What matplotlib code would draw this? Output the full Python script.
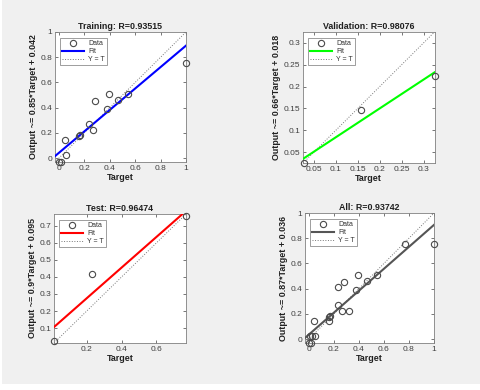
import matplotlib
matplotlib.use("Agg")
import matplotlib.pyplot as plt
import numpy as np
from matplotlib.ticker import FuncFormatter
from matplotlib.patches import Rectangle

plt.rcParams['font.family'] = ['Liberation Sans', 'DejaVu Sans']

# ---- data ----
train_t = [0.003, 0.016, 0.045, 0.053, 0.160, 0.170, 0.237, 0.268, 0.282, 0.379, 0.392, 0.463, 0.545, 0.997]
train_y = [-0.03, -0.03, 0.148, 0.029, 0.175, 0.185, 0.275, 0.226, 0.457, 0.387, 0.509, 0.465, 0.512, 0.753]
val_t = [0.027, 0.158, 0.325]
val_y = [0.025, 0.146, 0.224]
test_t = [0.012, 0.233, 0.770]
test_y = [0.025, 0.416, 0.757]
all_t = train_t + val_t + test_t
all_y = train_y + val_y + test_y

titles = ["Training: R=0.93515", "Validation: R=0.98076", "Test: R=0.96474", "All: R=0.93742"]
ylabels = ["Output ~= 0.85*Target + 0.042", "Output ~= 0.66*Target + 0.018",
           "Output ~= 0.9*Target + 0.095", "Output ~= 0.87*Target + 0.036"]
slopes = [0.85, 0.66, 0.9, 0.87]
intercepts = [0.042, 0.018, 0.095, 0.036]
fit_colors = ["#0000ff", "#00ff00", "#ff0000", "#555555"]
lims = [(-0.03, 1.0), (0.025, 0.325), (0.012, 0.77), (-0.03, 1.0)]
xticks = [[0, 0.2, 0.4, 0.6, 0.8, 1], [0.05, 0.1, 0.15, 0.2, 0.25, 0.3], [0.2, 0.4, 0.6], [0, 0.2, 0.4, 0.6, 0.8, 1]]
yticks = [[0, 0.2, 0.4, 0.6, 0.8, 1], [0.05, 0.1, 0.15, 0.2, 0.25, 0.3], [0.1, 0.2, 0.3, 0.4, 0.5, 0.6, 0.7], [0, 0.2, 0.4, 0.6, 0.8, 1]]
datasets = [(train_t, train_y), (val_t, val_y), (test_t, test_y), (all_t, all_y)]

W, H = 480, 390
fig = plt.figure(figsize=(W / 100, H / 100), dpi=100, facecolor='white')
fig.patches.append(Rectangle((2 / W, 6 / H), 1, 1, transform=fig.transFigure,
                             facecolor='#f0f0f0', edgecolor='none', zorder=-10))

# axes boxes in pixels: left, right, top, bottom
boxes = [(55, 186, 32, 162), (303, 434.5, 32, 163), (54, 186, 214, 343), (305, 434, 213, 343)]

fmt = FuncFormatter(lambda v, p: "%g" % round(v, 4))
tick_color = '#404040'

for i, (l, r, t, b) in enumerate(boxes):
    ax = fig.add_axes([l / W, (H - b) / H, (r - l) / W, (b - t) / H])
    ax.set_zorder(1)
    ax.set_facecolor('white')
    lo, hi = lims[i]
    tx, ty = datasets[i]
    ax.plot(tx, ty, 'o', mfc='none', mec='#4a4a4a', ms=4.5, mew=0.8, label='Data', clip_on=False, zorder=4)
    xs = np.array([lo, hi])
    ax.plot(xs, slopes[i] * xs + intercepts[i], '-', color=fit_colors[i], lw=1.5, label='Fit', zorder=3)
    ax.plot(xs, xs, ':', color='#777777', lw=0.7, label='Y = T', zorder=2)
    ax.set_xlim(lo, hi)
    ax.set_ylim(lo, hi)
    ax.set_xticks(xticks[i])
    ax.set_yticks(yticks[i])
    ax.xaxis.set_major_formatter(fmt)
    ax.yaxis.set_major_formatter(fmt)
    ax.tick_params(direction='in', top=True, right=True, length=2.5, width=0.5,
                   labelsize=6, colors=tick_color, pad=2)
    for s in ax.spines.values():
        s.set_color('#808080')
        s.set_linewidth(0.6)
    ax.set_title(titles[i], fontsize=6.4, fontweight='bold', color='#202020', pad=2.5)
    ax.set_xlabel('Target', fontsize=6.4, fontweight='bold', color='#202020', labelpad=1)
    ax.set_ylabel(ylabels[i], fontsize=6.4, fontweight='bold', color='#202020', labelpad=2)
    leg = ax.legend(loc='upper left', bbox_to_anchor=(5 / (r - l), 1 - 6 / (b - t)), borderaxespad=0,
                    fontsize=5, frameon=True, fancybox=False, handlelength=3.2, handletextpad=0.6,
                    borderpad=0.3, labelspacing=0.15)
    leg.get_frame().set_edgecolor('#555555')
    leg.get_frame().set_linewidth(0.5)
    for txt in leg.get_texts():
        txt.set_color('#303030')

fig.savefig('out.png', dpi=100, facecolor=fig.get_facecolor())
